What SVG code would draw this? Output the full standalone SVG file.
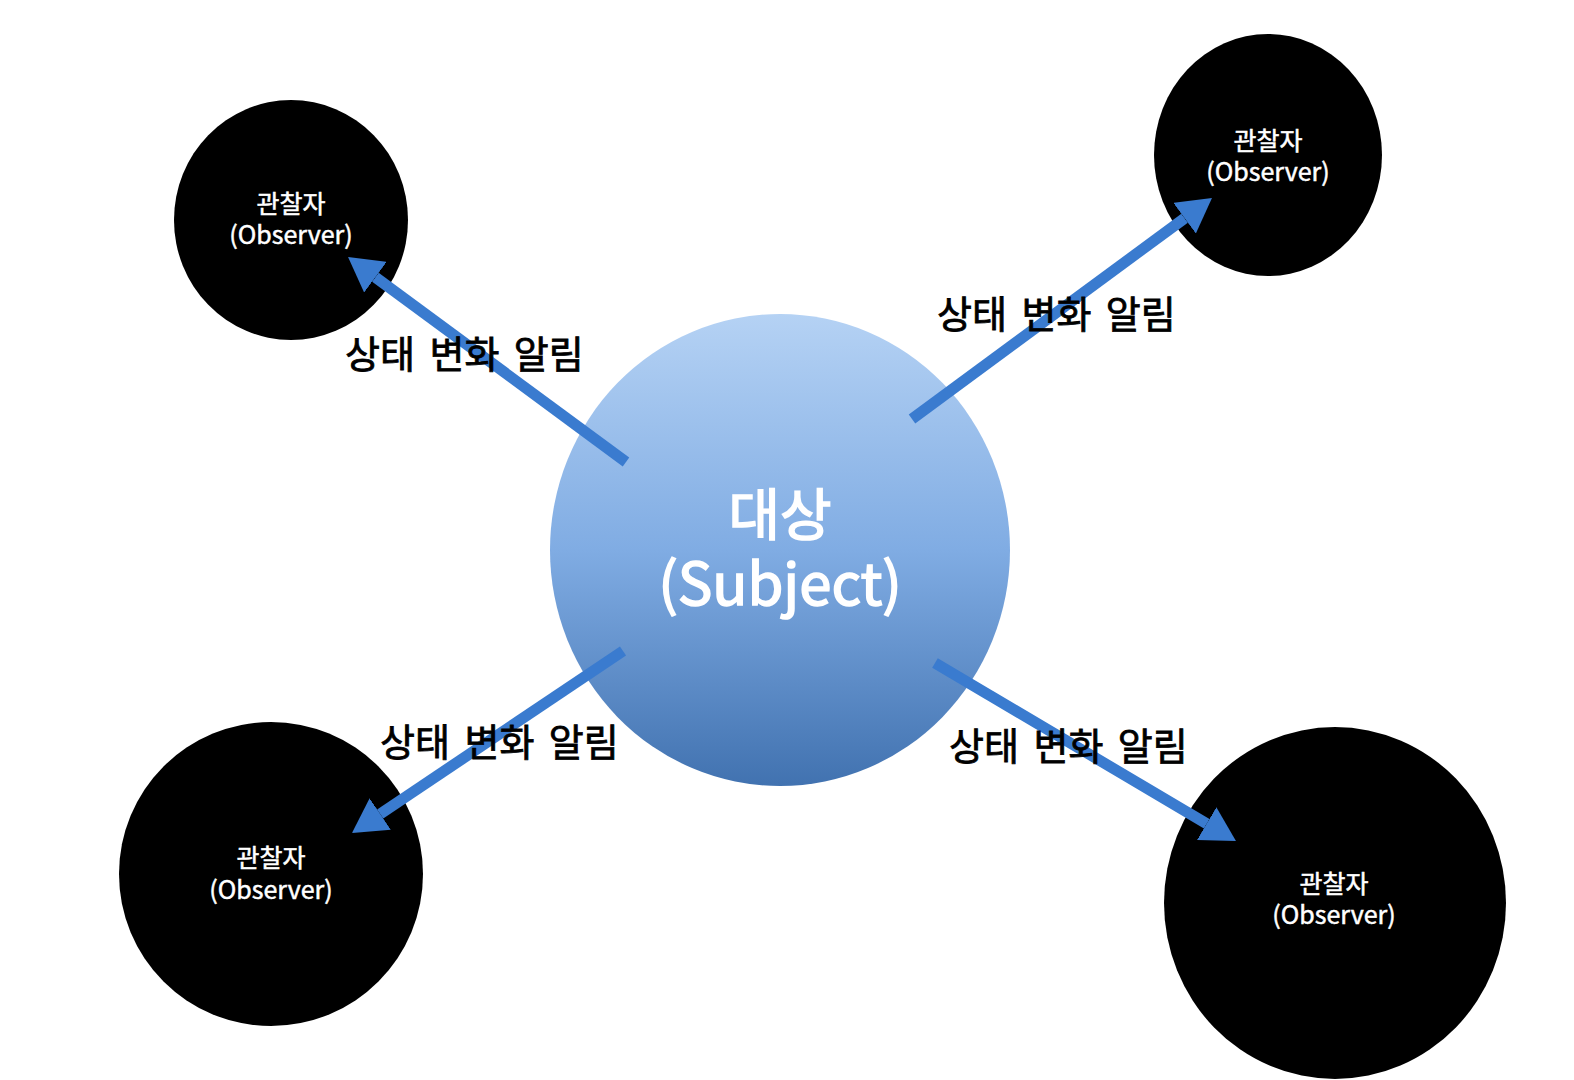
<svg xmlns="http://www.w3.org/2000/svg" width="1574" height="1080" viewBox="0 0 1574 1080">
<defs>
<linearGradient id="subjGrad" x1="0" y1="0" x2="0" y2="1">
<stop offset="0" stop-color="#b5d2f4"/>
<stop offset="0.5" stop-color="#80ace3"/>
<stop offset="1" stop-color="#4172b0"/>
</linearGradient>
<marker id="head" viewBox="0 0 34 38" refX="0" refY="19" markerWidth="34" markerHeight="38" markerUnits="userSpaceOnUse" orient="auto">
<path d="M0,0 L34,19 L0,38 Z" fill="#3a7bcf"/>
</marker>
<style>
.obs{fill:#000}
.obsText{font-family:"Noto Sans CJK KR","Noto Sans",sans-serif;font-size:25px;fill:#fff;stroke:#fff;stroke-width:0.5px;text-anchor:middle}
.subjText{font-family:"Noto Sans CJK KR","Noto Sans",sans-serif;fill:#fff;stroke:#fff;stroke-width:1.6px;text-anchor:middle}
.label{font-family:"Noto Sans CJK KR","Noto Sans",sans-serif;font-size:38px;fill:#000;stroke:#000;stroke-width:0.8px;word-spacing:6px}
.conn{stroke:#3a7bcf;stroke-width:11;fill:none;marker-end:url(#head)}
</style>
</defs>
<rect width="1574" height="1080" fill="#fff"/>
<g id="subject">
<ellipse cx="780" cy="550" rx="230" ry="236" fill="url(#subjGrad)"/>
<text class="subjText" x="780" y="535" font-size="56">대상</text>
<text class="subjText" x="780" y="605" font-size="58">(Subject)</text>
</g>
<g id="observer-tl">
<ellipse class="obs" cx="291" cy="220" rx="117" ry="120"/>
<text class="obsText" x="291" y="213">관찰자</text>
<text class="obsText" x="291" y="244">(Observer)</text>
</g>
<g id="observer-tr">
<ellipse class="obs" cx="1268" cy="155" rx="114" ry="121"/>
<text class="obsText" x="1268" y="150">관찰자</text>
<text class="obsText" x="1268" y="181">(Observer)</text>
</g>
<g id="observer-bl">
<ellipse class="obs" cx="271" cy="874" rx="152" ry="152"/>
<text class="obsText" x="271" y="867">관찰자</text>
<text class="obsText" x="271" y="899">(Observer)</text>
</g>
<g id="observer-br">
<ellipse class="obs" cx="1335" cy="903" rx="171" ry="176"/>
<text class="obsText" x="1334" y="893">관찰자</text>
<text class="obsText" x="1334" y="924">(Observer)</text>
</g>
<g id="connectors">
<line class="conn" x1="626" y1="462" x2="375.4" y2="277.2"/>
<line class="conn" x1="912" y1="419" x2="1184.6" y2="218.2"/>
<line class="conn" x1="623" y1="651" x2="380.2" y2="814"/>
<line class="conn" x1="935" y1="663" x2="1206.7" y2="823.7"/>
</g>
<g id="labels">
<text class="label" x="345" y="368">상태 변화 알림</text>
<text class="label" x="937" y="328">상태 변화 알림</text>
<text class="label" x="380" y="756">상태 변화 알림</text>
<text class="label" x="949" y="760">상태 변화 알림</text>
</g>
</svg>
